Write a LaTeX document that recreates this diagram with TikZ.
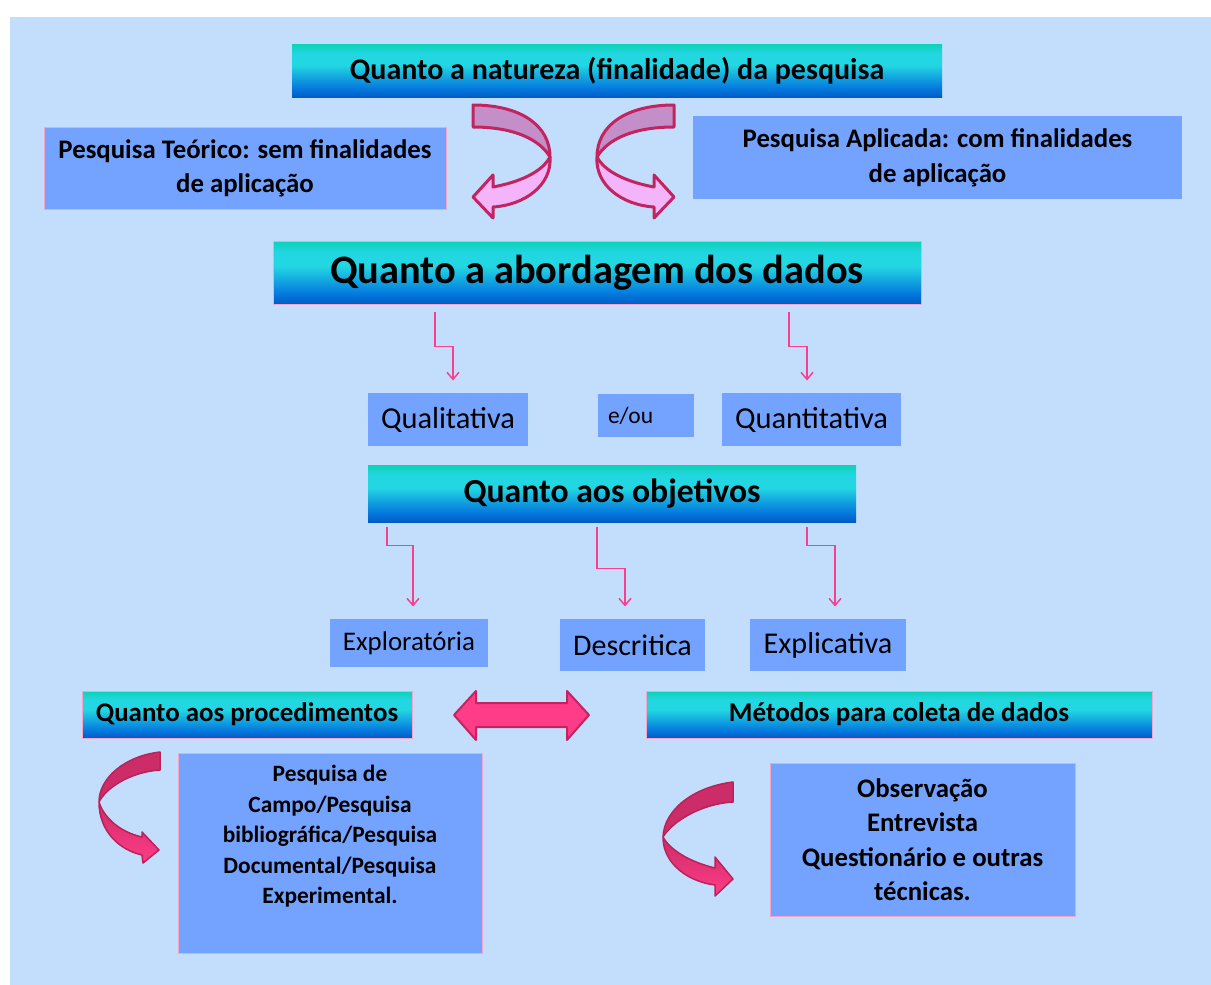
\documentclass[tikz,border=0pt]{standalone}
\usepackage{fontspec}
\setmainfont{Carlito}
\usetikzlibrary{arrows.meta,calc}
\definecolor{panel}{RGB}{195,222,253}
\definecolor{boxblue}{RGB}{115,162,255}
\definecolor{pinkline}{RGB}{244,166,200}
\definecolor{hteal}{RGB}{12,210,182}
\definecolor{hcyan}{RGB}{34,214,226}
\definecolor{hblue}{RGB}{4,120,222}
\definecolor{hblueD}{RGB}{0,92,196}
\definecolor{conn}{RGB}{250,64,140}
\definecolor{arrline}{RGB}{194,36,96}
\definecolor{mauve}{RGB}{196,142,200}
\definecolor{lpink}{RGB}{244,180,250}
\definecolor{dpink}{RGB}{204,44,104}
\definecolor{hpink}{RGB}{255,60,136}
\definecolor{dline}{RGB}{184,35,90}
\pgfdeclareverticalshading{hdrshade}{100bp}{color(0bp)=(hblueD); color(25bp)=(hblueD); color(33bp)=(hblue); color(55bp)=(hcyan); color(66bp)=(hcyan); color(75bp)=(hteal); color(100bp)=(hteal)}
\newcommand{\fs}[2]{\fontsize{#1}{#2}\selectfont}
\tikzset{
  hdr/.style={shading=hdrshade, draw=pinkline, line width=0.8pt, inner sep=0pt, font=\bfseries},
  pbox/.style={fill=boxblue, draw=pinkline, line width=1pt, inner sep=0pt, align=center},
  elbow/.style={draw=conn, line width=1.5pt, -{Straight Barb[length=7pt,width=12pt]}},
  toparr/.style={draw=arrline, line width=3pt, line join=round},
  botarr/.style={draw=dline, line width=1.5pt, line join=round},
}
\begin{document}
\begin{tikzpicture}[x=1pt,y=-1pt]
\useasboundingbox (0,0) rectangle (1211,985);
\fill[white] (0,0) rectangle (1211,985);
\fill[panel] (10,17) rectangle (1211,985);

% headers
\node[hdr, draw=none, minimum width=650pt, minimum height=53pt, font=\bfseries\fs{30}{36}] (hdr1) at (617,70.5) {Quanto a natureza (finalidade) da pesquisa};
\node[hdr, minimum width=648pt, minimum height=63pt, font=\bfseries\fs{40.4}{48}] (hdr2) at (597,272.5) {Quanto a abordagem dos dados};
\node[hdr, draw=none, minimum width=488pt, minimum height=57pt, font=\bfseries\fs{33.7}{40}] (hdr3) at (612,493.5) {Quanto aos objetivos};
\node[hdr, minimum width=330pt, minimum height=47pt, font=\bfseries\fs{26.9}{32}] (hdr4) at (247,714.5) {Quanto aos procedimentos};
\node[hdr, minimum width=506pt, minimum height=47pt, font=\bfseries\fs{27.1}{32}] (hdr5) at (899,714.5) {Métodos para coleta de dados};

% top boxes
\node[pbox, minimum width=402pt, minimum height=82pt, font=\bfseries\fs{26.8}{34}] (teor) at (245,168) {Pesquisa Teórico: sem finalidades\\de aplicação};
\node[pbox, minimum width=489pt, minimum height=83pt, draw=none, font=\bfseries\fs{26.8}{35}] (apl) at (937.5,157.5) {Pesquisa Aplicada: com finalidades\\de aplicação};

% abordagem boxes
\node[pbox, draw=none, minimum width=160pt, minimum height=53pt, font=\fs{30.4}{36}] (qual) at (448,419.5) {\raisebox{-2pt}{Qualitativa}};
\node[pbox, draw=none, minimum width=96pt, minimum height=43pt, text width=76pt, inner xsep=10pt, align=left, font=\fs{23.5}{28}] (eou) at (646,415.5) {e/ou};
\node[pbox, draw=none, minimum width=179pt, minimum height=53pt, font=\fs{30.5}{36}] (quant) at (811.5,419.5) {\raisebox{-2pt}{Quantitativa}};

% objetivos boxes
\node[pbox, draw=none, minimum width=158pt, minimum height=48pt, font=\fs{26.9}{32}] (expl) at (409,643) {Exploratória};
\node[pbox, draw=none, minimum width=145pt, minimum height=52pt, font=\fs{30}{36}] (desc) at (632.5,645) {\raisebox{-2pt}{Descritica}};
\node[pbox, draw=none, minimum width=156pt, minimum height=52pt, font=\fs{30.2}{36}] (expc) at (828,645) {\raisebox{-1pt}{Explicativa}};

% bottom boxes
\node[pbox, minimum width=304pt, minimum height=200pt] (proc) at (330,853) {};
\node[align=center, inner sep=0pt, font=\bfseries\fs{23.4}{30.5}] (proctxt) at (330,836.5) {Pesquisa de\\Campo/Pesquisa\\bibliográfica/Pesquisa\\Documental/Pesquisa\\Experimental.};
\node[pbox, minimum width=305pt, minimum height=153pt, font=\bfseries\fs{26.8}{34.5}] (meth) at (922.5,839.5) {Observação\\Entrevista\\Questionário e outras\\técnicas.};

% elbow connectors
\draw[elbow] ($(hdr2.south)+(-162,8)$) -- ++(0,34) -| ($(qual.north)+(5,-12)$);
\draw[elbow] ($(hdr2.south)+(192,8)$) -- ++(0,34) -| ($(quant.north)+(-4.5,-12)$);
\draw[elbow] ($(hdr3.south)+(-225,5)$) -- ++(0,18) -| ($(expl.north)+(4,-12)$);
\draw[elbow] ($(hdr3.south)+(-15,5)$) -- ++(0,41) -| ($(desc.north)+(-7.5,-12)$);
\draw[elbow] ($(hdr3.south)+(195,5)$) -- ++(0,18) -| ($(expc.north)+(7,-12)$);

% top curved arrows
\begin{scope}
\draw[toparr, fill=lpink] (550,157) .. controls (552,185) and (525,205) .. (493,207) -- (493,218) -- (473,197) -- (493,175) -- (493,187) .. controls (520,182) and (542,172) .. (550,157) -- cycle;
\draw[toparr, fill=mauve] (473,105) .. controls (520,105) and (550,125) .. (550,157) .. controls (540,140) and (515,127) .. (473,127) -- cycle;
\end{scope}
\begin{scope}[shift={(1147,0)}, xscale=-1]
\draw[toparr, fill=lpink] (550,157) .. controls (552,185) and (525,205) .. (493,207) -- (493,218) -- (473,197) -- (493,175) -- (493,187) .. controls (520,182) and (542,172) .. (550,157) -- cycle;
\draw[toparr, fill=mauve] (473,105) .. controls (520,105) and (550,125) .. (550,157) .. controls (540,140) and (515,127) .. (473,127) -- cycle;
\end{scope}

% double arrow
\draw[draw=arrline, line width=2pt, fill=hpink, line join=round] (454,715) -- (476,691) -- (476,703) -- (567,703) -- (567,691) -- (589,715) -- (567,740) -- (567,727) -- (476,727) -- (476,740) -- cycle;

% bottom curved arrows
\draw[botarr, top color=dpink, bottom color=hpink] (99,802) .. controls (99,832) and (120,850) .. (142,855) -- (143,863) -- (159,850) -- (142,832) -- (142,837) .. controls (120,832) and (104,818) .. (99,802) -- cycle;
\draw[botarr, fill=dpink] (160,752) .. controls (125,756) and (99,778) .. (99,802) .. controls (106,788) and (130,772) .. (160,770) -- cycle;

\draw[botarr, top color=dpink, bottom color=hpink] (663,837) .. controls (663,865) and (690,882) .. (715,885) -- (715,896) -- (733,879) -- (715,857) -- (715,868) .. controls (690,862) and (670,850) .. (663,837) -- cycle;
\draw[botarr, fill=dpink] (733,782) .. controls (693,787) and (664,810) .. (663,837) .. controls (672,822) and (700,804) .. (733,802) -- cycle;
\end{tikzpicture}
\end{document}
